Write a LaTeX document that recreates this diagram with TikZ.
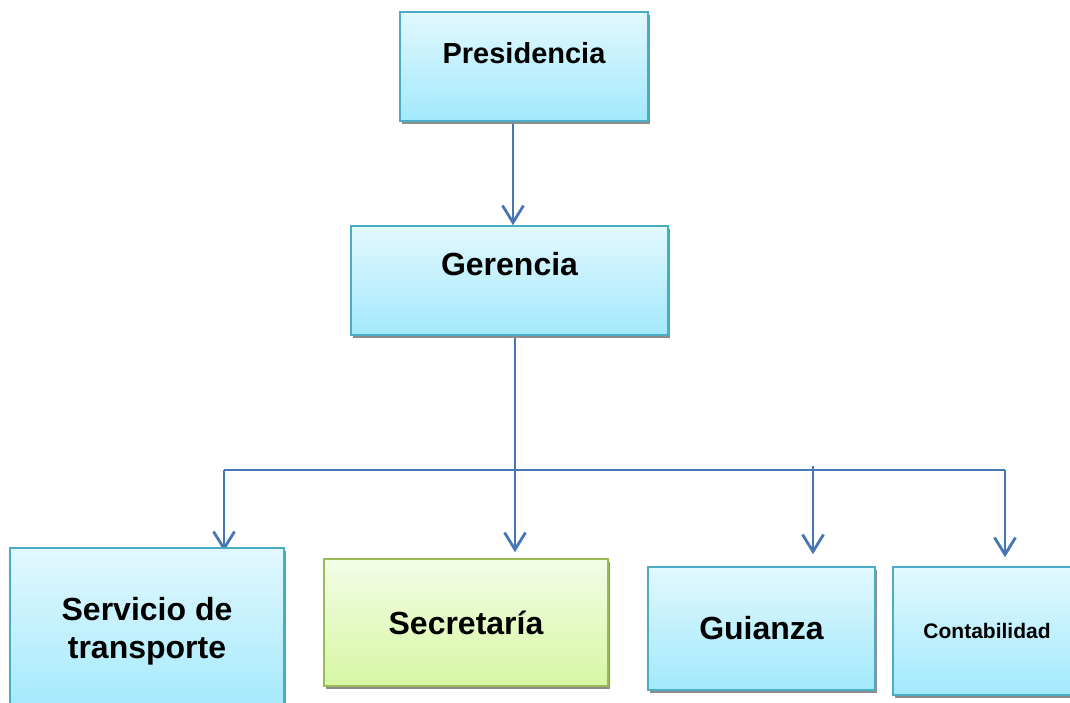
\documentclass[tikz,border=0pt]{standalone}
\usepackage{fontspec}
\setmainfont{Liberation Sans}
\usetikzlibrary{arrows.meta,shadows,backgrounds}

\definecolor{boxtop}{HTML}{E2F8FE}
\definecolor{boxbot}{HTML}{A2E9FC}
\definecolor{boxline}{HTML}{4BACC6}
\definecolor{greentop}{HTML}{F3FCE6}
\definecolor{greenbot}{HTML}{D6F7A3}
\definecolor{greenline}{HTML}{9BBB59}
\definecolor{linkblue}{HTML}{4676B6}

\begin{document}
\begin{tikzpicture}[x=1pt,y=-1pt]
  \useasboundingbox (0,0) rectangle (1070,703);
  \coordinate (bus-left)  at (224,470);
  \coordinate (bus-mid)   at (515,470);
  \coordinate (bus-right) at (1005,470);
  \coordinate (guia-top)  at (813,466);
  \begin{scope}[
    every node/.style={
      draw=boxline,
      line width=1.6pt,
      top color=boxtop,
      bottom color=boxbot,
      drop shadow={shadow xshift=1.5pt,shadow yshift=-3pt,fill=black!45,opacity=1},
      align=center,
      inner sep=0pt,
      font=\bfseries\fontsize{32}{38}\selectfont,
    },
    ]
    \node[minimum width=248pt,minimum height=109pt,text depth=27pt,
      font=\bfseries\fontsize{29}{34}\selectfont] (pres) at (524,66.5) {Presidencia};
    \node[minimum width=317pt,minimum height=109pt,text depth=33pt] (ger) at (509.5,280.5) {Gerencia};
    \node[minimum width=274pt,minimum height=166pt] (serv) at (147,631) {Servicio de\\transporte};
    \node[minimum width=284pt,minimum height=127pt,draw=greenline,
      top color=greentop,bottom color=greenbot] (sec) at (466,622.5) {Secretaría};
    \node[minimum width=227pt,minimum height=123pt] (gui) at (761.5,628.5) {Guianza};
    \node[minimum width=188pt,minimum height=128pt,
      font=\bfseries\fontsize{21}{25}\selectfont] (cont) at (987,631) {Contabilidad};
  \end{scope}
  % connectors go under the boxes
  \begin{scope}[on background layer,
    every edge/.style={draw=linkblue,line width=2.8pt,
      -{Straight Barb[length=17pt,width=21pt,line width=2.8pt]}},
    ]
    \path
    ([xshift=-11pt]pres.south) edge ([xshift=-11pt]pres.south |- ger.north)
    ([xshift=5.5pt]ger.south)  edge ([yshift=6pt]bus-mid |- sec.north)
    (bus-left)                 edge ([yshift=-4pt]bus-left |- serv.north)
    (guia-top)                 edge ([yshift=12pt]guia-top |- gui.north)
    (bus-right)                edge ([yshift=9pt]bus-right |- cont.north);
    \draw[draw=linkblue,line width=2.8pt] (bus-left) -- (bus-right);
  \end{scope}
\end{tikzpicture}
\end{document}
